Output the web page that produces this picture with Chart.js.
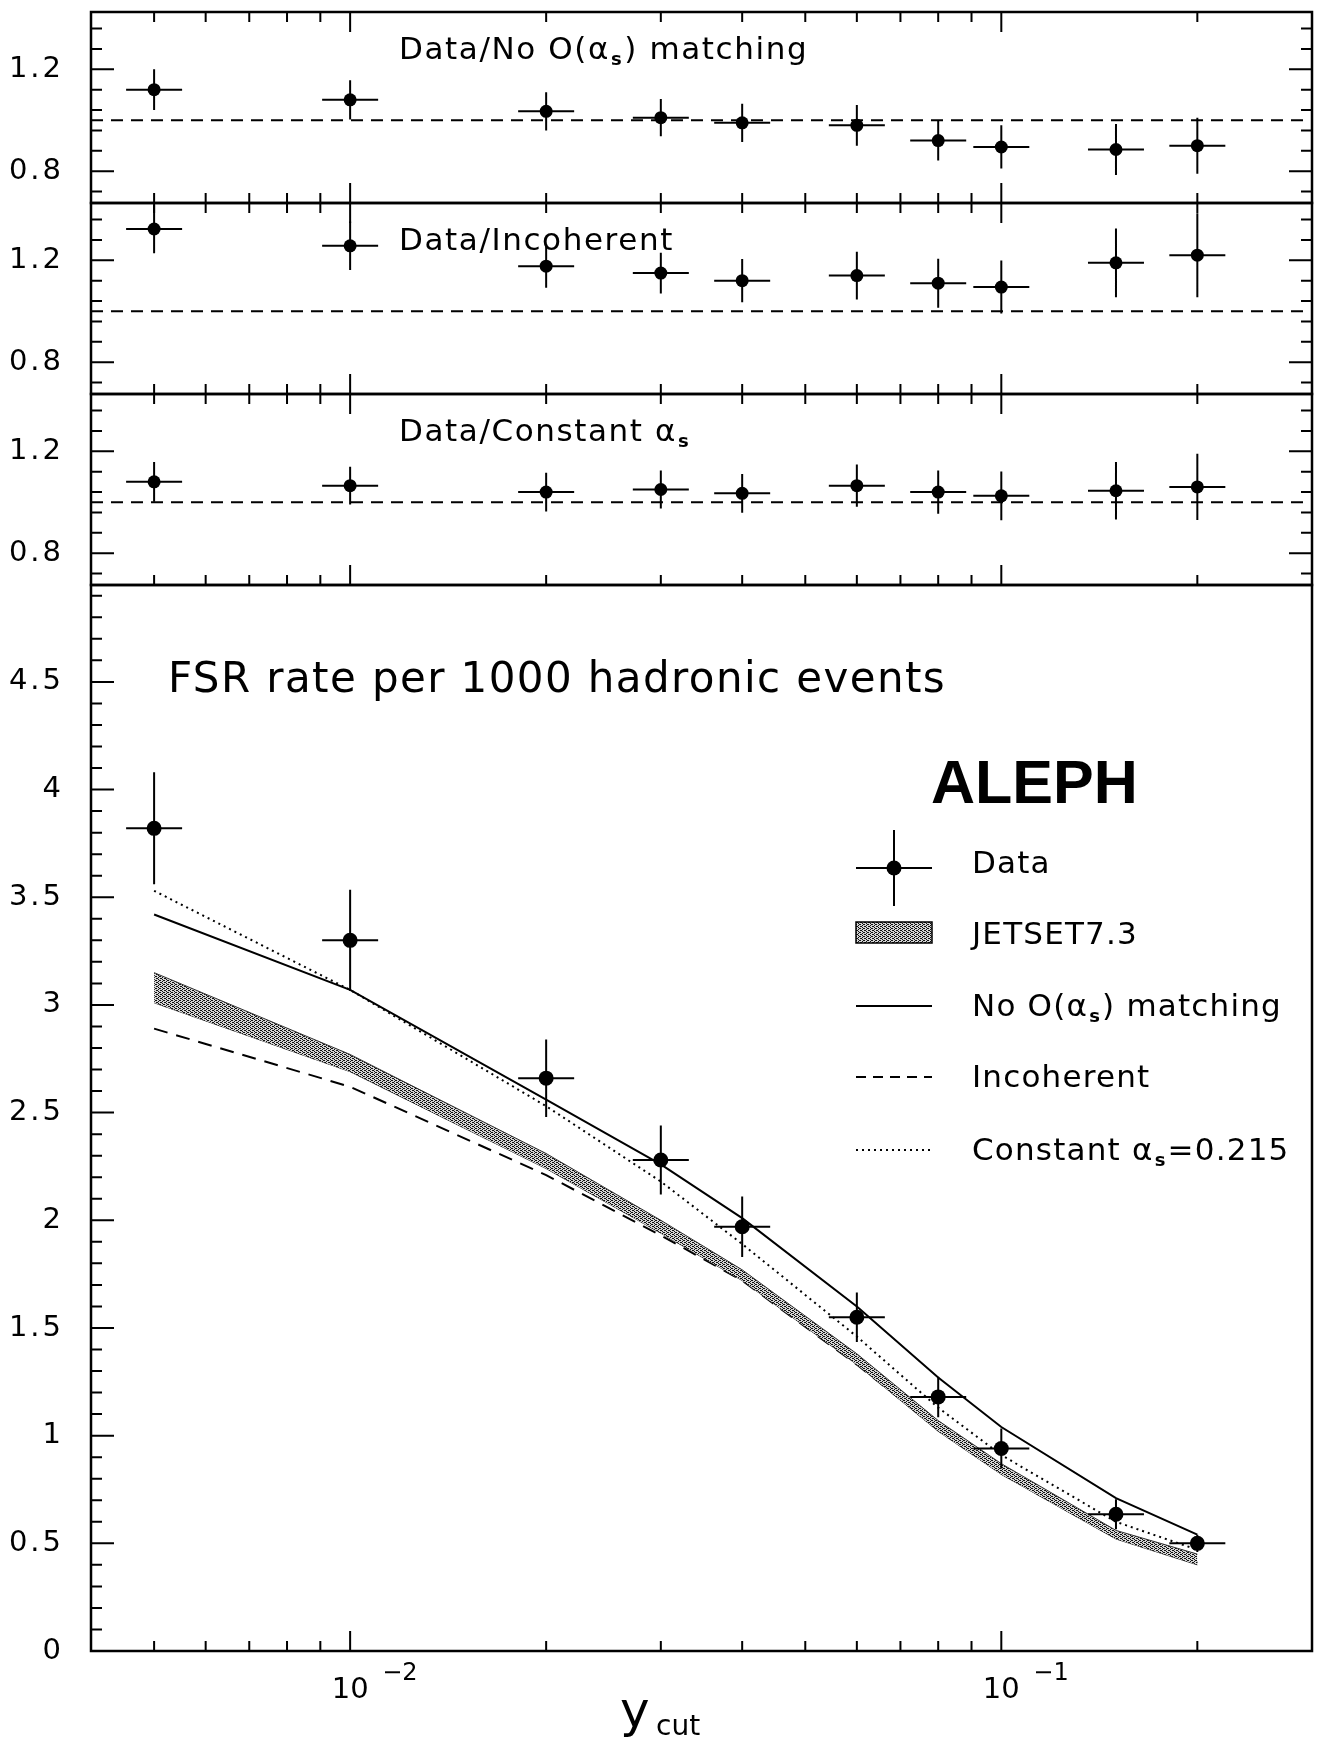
<!DOCTYPE html>
<html>
<head>
<meta charset="utf-8">
<script src="https://cdn.jsdelivr.net/npm/chart.js@4.4.1/dist/chart.umd.min.js"></script>
<style>
  html, body { margin: 0; padding: 0; background: #fff; }
  #page { position: relative; width: 1321px; height: 1738px; overflow: hidden; background: #fff; }
  #page canvas { position: absolute; left: 0; top: 0; }
</style>
</head>
<body>
<div id="page">
  <canvas id="ratio1" width="1321" height="1738"></canvas>
  <canvas id="ratio2" width="1321" height="1738"></canvas>
  <canvas id="ratio3" width="1321" height="1738"></canvas>
  <canvas id="rate" width="1321" height="1738"></canvas>
</div>
<script>
// y_cut of the measured points
const ycut = [0.005, 0.01, 0.02, 0.03, 0.04, 0.06, 0.08, 0.1, 0.15, 0.2];

// FSR rate per 1000 hadronic events (data)
const dataRate = [3.82, 3.30, 2.66, 2.28, 1.97, 1.55, 1.18, 0.94, 0.635, 0.50];
const dataRateErr = [0.26, 0.235, 0.18, 0.16, 0.14, 0.115, 0.094, 0.093, 0.07, 0.04];

// model predictions
const noMatching = [3.42, 3.07, 2.56, 2.26, 2.01, 1.60, 1.27, 1.04, 0.71, 0.54];
const incoherent = [2.89, 2.62, 2.21, 1.93, 1.72, 1.33, 1.03, 0.83, 0.53, 0.41];
const constAlphas = [3.53, 3.07, 2.53, 2.18, 1.89, 1.46, 1.13, 0.91, 0.60, 0.47];
const jetsetLow = [3.01, 2.69, 2.24, 1.94, 1.72, 1.33, 1.02, 0.82, 0.52, 0.40];
const jetsetHigh = [3.15, 2.77, 2.31, 2.00, 1.77, 1.38, 1.07, 0.87, 0.56, 0.45];

// ratio panels
const ratioNoMatching = [1.12, 1.08, 1.035, 1.01, 0.99, 0.98, 0.92, 0.895, 0.885, 0.90];
const ratioNoMatchingErr = [0.08, 0.077, 0.075, 0.073, 0.075, 0.08, 0.078, 0.085, 0.10, 0.11];
const ratioIncoherent = [1.323, 1.257, 1.177, 1.15, 1.12, 1.14, 1.11, 1.095, 1.19, 1.22];
const ratioIncoherentErr = [0.095, 0.095, 0.085, 0.08, 0.085, 0.094, 0.096, 0.104, 0.135, 0.165];
const ratioConstant = [1.08, 1.065, 1.04, 1.05, 1.035, 1.065, 1.04, 1.025, 1.045, 1.06];
const ratioConstantErr = [0.078, 0.074, 0.076, 0.075, 0.076, 0.083, 0.085, 0.096, 0.113, 0.13];

// axes
const X_MIN = 0.004, X_MAX = 0.3;
const X_MAJOR = [0.01, 0.1];
const X_MAJOR_EXP = ['\u22122', '\u22121'];
const X_MINOR = [0.005, 0.006, 0.007, 0.008, 0.009, 0.02, 0.03, 0.04, 0.05, 0.06, 0.07, 0.08, 0.09, 0.2];
const RATIO_MIN = 0.675, RATIO_MAX = 1.425;
const RATIO_TICKS = [0.8, 1.2];
const MAIN_MIN = 0, MAIN_MAX = 4.95;
const MAIN_TICKS = [0, 0.5, 1, 1.5, 2, 2.5, 3, 3.5, 4, 4.5];

// page layout
const PAGE_W = 1321, PAGE_H = 1738;
const PLOT_LEFT = 91, PLOT_RIGHT = 1312;
const PANEL_TOPS = [12, 203, 394];
const RATIO_H = 191;
const MAIN_TOP = 585, MAIN_BOTTOM = 1651;

const FONT = '"DejaVu Sans", sans-serif';
const pts = arr => ycut.map((x, i) => ({ x, y: arr[i] }));

function makeStipple() {
    const c = document.createElement('canvas');
    c.width = 4; c.height = 4;
    const g = c.getContext('2d');
    g.fillStyle = '#d4d4d4';
    g.fillRect(0, 0, 4, 4);
    g.fillStyle = '#111';
    [[0, 0], [2, 1], [0, 2], [2, 3], [3, 0], [1, 2]].forEach(([i, j]) => g.fillRect(i, j, 1, 1));
    return g.createPattern(c, 'repeat');
}
const stipple = makeStipple();

// text with sub/superscript pieces
function drawRich(ctx, x, y, parts, size) {
    parts.forEach(p => {
        if (typeof p === 'string') {
            ctx.font = `${size}px ${FONT}`;
            ctx.fillText(p, x, y);
            x += ctx.measureText(p).width;
        } else {
            const s = Math.round(size * 0.58);
            ctx.font = `bold ${s}px ${FONT}`;
            const t = p.sub || p.sup;
            const dy = p.sub ? size * 0.2 : -size * 0.5;
            ctx.fillText(t, x + 1, y + dy);
            x += ctx.measureText(t).width + 2;
        }
    });
}

// wider tick labels, closer to the original plotting font
const wideLabels = {
    id: 'wideLabels',
    beforeDraw(chart) { chart.ctx.letterSpacing = '3px'; },
    afterDraw(chart) { chart.ctx.letterSpacing = '0px'; }
};

// frame and inward ticks
function makeFrame(cfg) {
    return {
        id: 'frame',
        afterDraw(chart) {
            const { ctx, chartArea: a, scales: { x, y } } = chart;
            ctx.save();
            ctx.strokeStyle = '#000';
            ctx.lineWidth = 2;
            ctx.beginPath();
            const xt = X_MINOR.map(v => [v, 10]).concat(X_MAJOR.map(v => [v, 20]));
            xt.forEach(([v, len]) => {
                const px = x.getPixelForValue(v);
                if (cfg.top) { ctx.moveTo(px, a.top); ctx.lineTo(px, a.top + len); }
                if (cfg.bottom) { ctx.moveTo(px, a.bottom); ctx.lineTo(px, a.bottom - len); }
            });
            for (let n = 0; ; n++) {
                const v = +(cfg.yStart + n * cfg.yStep).toFixed(4);
                if (v > y.max) break;
                const major = cfg.majors.some(m => Math.abs(m - v) < 1e-6);
                const len = major ? 23 : 11;
                const py = y.getPixelForValue(v);
                ctx.moveTo(a.left, py); ctx.lineTo(a.left + len, py);
                if (cfg.right) { ctx.moveTo(a.right, py); ctx.lineTo(a.right - len, py); }
            }
            ctx.stroke();
            ctx.lineWidth = 2.5;
            ctx.strokeRect(a.left, a.top, a.right - a.left, a.bottom - a.top);
            ctx.restore();
        }
    };
}

function makeErrorBars(xs, ys, errs) {
    return {
        id: 'errorBars',
        afterDatasetsDraw(chart) {
            const { ctx, scales: { x, y } } = chart;
            ctx.save();
            ctx.strokeStyle = '#000';
            ctx.lineWidth = 2;
            ctx.beginPath();
            xs.forEach((xv, i) => {
                const px = x.getPixelForValue(xv);
                const py = y.getPixelForValue(ys[i]);
                ctx.moveTo(px, y.getPixelForValue(ys[i] + errs[i]));
                ctx.lineTo(px, y.getPixelForValue(ys[i] - errs[i]));
                ctx.moveTo(px - 28, py);
                ctx.lineTo(px + 28, py);
            });
            ctx.stroke();
            ctx.restore();
        }
    };
}

function makeTitle(parts) {
    return {
        id: 'panelTitle',
        afterDraw(chart) {
            const { ctx, chartArea: a } = chart;
            ctx.save();
            ctx.fillStyle = '#000';
            ctx.textBaseline = 'alphabetic';
            ctx.letterSpacing = '1.6px';
            drawRich(ctx, 399, a.top + 47, parts, 31);
            ctx.restore();
        }
    };
}

function yAxis(min, max, ticks) {
    return {
        min, max,
        afterFit: s => { s.width = PLOT_LEFT; s.paddingTop = 0; s.paddingBottom = 0; },
        afterBuildTicks: s => { s.ticks = ticks.map(v => ({ value: v })); },
        grid: { display: false, drawTicks: false },
        border: { display: false },
        ticks: { padding: 27, color: '#000', font: { family: FONT, size: 29 }, callback: v => String(v) }
    };
}

function ratioChart(id, panel, values, errs, title) {
    const top = PANEL_TOPS[panel];
    return new Chart(document.getElementById(id), {
        type: 'line',
        data: {
            datasets: [
                {
                    data: [{ x: X_MIN, y: 1 }, { x: X_MAX, y: 1 }],
                    borderColor: '#000', borderWidth: 2, borderDash: [12, 8], pointRadius: 0
                },
                {
                    data: pts(values), showLine: false, pointRadius: 6.5,
                    pointBackgroundColor: '#000', pointBorderColor: '#000', pointBorderWidth: 0
                }
            ]
        },
        options: {
            responsive: false, animation: false, events: [],
            layout: { padding: { left: 0, right: PAGE_W - PLOT_RIGHT, top: top, bottom: PAGE_H - top - RATIO_H } },
            plugins: { legend: { display: false }, tooltip: { enabled: false } },
            scales: {
                x: { type: 'logarithmic', min: X_MIN, max: X_MAX, display: false },
                y: yAxis(RATIO_MIN, RATIO_MAX, RATIO_TICKS)
            }
        },
        plugins: [
            wideLabels,
            makeErrorBars(ycut, values, errs),
            makeFrame({ top: true, bottom: true, right: true, yStart: 0.72, yStep: 0.08, majors: RATIO_TICKS }),
            makeTitle(title)
        ]
    });
}

ratioChart('ratio1', 0, ratioNoMatching, ratioNoMatchingErr,
    ['Data/No O(', '\u03b1', { sub: 's' }, ') matching']);
ratioChart('ratio2', 1, ratioIncoherent, ratioIncoherentErr, ['Data/Incoherent']);
ratioChart('ratio3', 2, ratioConstant, ratioConstantErr,
    ['Data/Constant ', '\u03b1', { sub: 's' }]);

// labels, legend and axis text of the main panel
const mainText = {
    id: 'mainText',
    afterDraw(chart) {
        const { ctx, scales: { x } } = chart;
        ctx.save();
        ctx.fillStyle = '#000';
        ctx.strokeStyle = '#000';
        ctx.textBaseline = 'alphabetic';

        ctx.letterSpacing = '1.4px';
        drawRich(ctx, 168, 692, ['FSR rate per 1000 hadronic events'], 42);
        ctx.letterSpacing = '0px';

        ctx.font = `bold 61px "Liberation Sans", Arial, sans-serif`;
        ctx.fillText('ALEPH', 931, 803);

        // legend
        const x0 = 856, x1 = 932, xc = 894, tx = 972;
        ctx.lineWidth = 2;
        // data
        ctx.beginPath();
        ctx.moveTo(xc, 830); ctx.lineTo(xc, 906);
        ctx.moveTo(x0, 868); ctx.lineTo(x1, 868);
        ctx.stroke();
        ctx.beginPath(); ctx.arc(xc, 868, 7.5, 0, Math.PI * 2); ctx.fill();
        // jetset band
        ctx.fillStyle = stipple;
        ctx.fillRect(x0, 922, x1 - x0, 21);
        ctx.fillStyle = '#000';
        ctx.lineWidth = 1.5;
        ctx.strokeRect(x0, 922, x1 - x0, 21);
        ctx.lineWidth = 2;
        [[1006, []], [1077, [10, 7]], [1150, [2, 4]]].forEach(([ly, dash]) => {
            ctx.setLineDash(dash);
            ctx.beginPath(); ctx.moveTo(x0, ly); ctx.lineTo(x1, ly); ctx.stroke();
        });
        ctx.setLineDash([]);

        ctx.letterSpacing = '1.2px';
        const LS = 31;
        drawRich(ctx, tx, 873, ['Data'], LS);
        drawRich(ctx, tx, 944, ['JETSET7.3'], LS);
        drawRich(ctx, tx, 1016, ['No O(', '\u03b1', { sub: 's' }, ') matching'], LS);
        drawRich(ctx, tx, 1087, ['Incoherent'], LS);
        drawRich(ctx, tx, 1160, ['Constant ', '\u03b1', { sub: 's' }, '=0.215'], LS);
        ctx.letterSpacing = '0px';

        // x axis labels 10^-2, 10^-1
        X_MAJOR.forEach((v, i) => {
            const px = x.getPixelForValue(v);
            ctx.font = `29px ${FONT}`;
            ctx.textAlign = 'center';
            ctx.fillText('10', px, 1698);
            ctx.textAlign = 'left';
            ctx.font = `24px ${FONT}`;
            ctx.fillText(X_MAJOR_EXP[i], px + 32, 1680);
        });

        // y_cut
        ctx.font = `50px ${FONT}`;
        ctx.fillText('y', 620, 1727);
        ctx.font = `28px ${FONT}`;
        ctx.fillText('cut', 656, 1735);
        ctx.restore();
    }
};

new Chart(document.getElementById('rate'), {
    type: 'line',
    data: {
        datasets: [
            {
                label: 'JETSET7.3', data: pts(jetsetHigh), fill: '+1',
                backgroundColor: stipple, borderColor: '#333', borderWidth: 1, pointRadius: 0
            },
            {
                label: 'JETSET7.3 low', data: pts(jetsetLow), fill: false,
                borderColor: '#333', borderWidth: 1, pointRadius: 0
            },
            {
                label: 'Incoherent', data: pts(incoherent), fill: false,
                borderColor: '#000', borderWidth: 2, borderDash: [14, 9], pointRadius: 0
            },
            {
                label: 'Constant', data: pts(constAlphas), fill: false,
                borderColor: '#000', borderWidth: 2, borderDash: [2, 4], pointRadius: 0
            },
            {
                label: 'No matching', data: pts(noMatching), fill: false,
                borderColor: '#000', borderWidth: 2, pointRadius: 0
            },
            {
                label: 'Data', data: pts(dataRate), showLine: false, pointRadius: 7.5,
                pointBackgroundColor: '#000', pointBorderColor: '#000', pointBorderWidth: 0
            }
        ]
    },
    options: {
        responsive: false, animation: false, events: [],
        layout: { padding: { left: 0, right: PAGE_W - PLOT_RIGHT, top: MAIN_TOP, bottom: PAGE_H - MAIN_BOTTOM } },
        plugins: { legend: { display: false }, tooltip: { enabled: false } },
        scales: {
            x: { type: 'logarithmic', min: X_MIN, max: X_MAX, display: false },
            y: yAxis(MAIN_MIN, MAIN_MAX, MAIN_TICKS)
        }
    },
    plugins: [
        wideLabels,
        makeErrorBars(ycut, dataRate, dataRateErr),
        makeFrame({ top: false, bottom: true, right: false, yStart: 0, yStep: 0.1, majors: MAIN_TICKS }),
        mainText
    ]
});
</script>
</body>
</html>
